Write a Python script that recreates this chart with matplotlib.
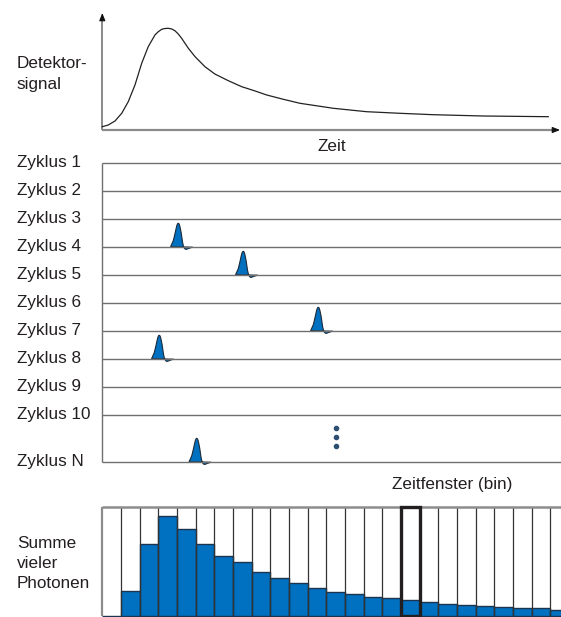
import numpy as np
import matplotlib
matplotlib.use("Agg")
import matplotlib.pyplot as plt

plt.rcParams["font.family"] = ["Liberation Sans", "DejaVu Sans"]

# ---------------------------------------------------------------- data
# detector signal (time in bin units, signal in arbitrary units)
signal_t = [0.00, 0.32, 0.68, 1.04, 1.39, 1.75, 2.11, 2.46, 2.82, 3.00,
            3.18, 3.36, 3.54, 3.72, 3.89, 4.07, 4.25, 4.61, 4.97, 5.50,
            6.03, 6.75, 7.47, 8.14, 8.81, 9.70, 10.59, 12.38, 14.16, 15.95,
            17.73, 20.41, 23.89]
signal_v = [3.3, 5.0, 9.0, 16.7, 28.3, 45.0, 66.7, 83.3, 95.0, 98.3,
            100.7, 101.5, 101.7, 101.0, 99.3, 96.0, 91.7, 81.7, 73.3, 63.3,
            56.0, 49.3, 43.3, 39.3, 35.0, 30.7, 26.7, 21.7, 18.3, 16.7,
            15.3, 14.0, 13.3]

# measurement cycles and single-photon arrivals
cycle_labels = ["Zyklus 1", "Zyklus 2", "Zyklus 3", "Zyklus 4", "Zyklus 5",
                "Zyklus 6", "Zyklus 7", "Zyklus 8", "Zyklus 9", "Zyklus 10",
                "Zyklus N"]
cycle_rows = [1, 2, 3, 4, 5, 6, 7, 8, 9, 10, 11.68]
photon_cycle = [4, 5, 7, 8, 11.68]
photon_time = [4.07, 7.55, 11.57, 3.05, 5.06]
ellipsis_time = 12.5
ellipsis_rows = [10.49, 10.81, 11.13]

# histogram: photon counts per time bin
bin_counts = [1, 76, 215, 299, 261, 215, 181, 163, 131, 113, 99, 85, 71,
              65, 57, 53, 47, 41, 35, 33, 30, 26, 23, 23, 17]
marked_bin = 16

# ---------------------------------------------------------------- style
W, H = 561, 617
BLUE = "#0070c0"
TXT = "#231f20"
FS = 12.3
BIN_PX = 18.667     # pixels per time bin
ROW_PX = 28.0       # pixels per cycle row

fig = plt.figure(figsize=(W / 100, H / 100), dpi=100)


def px_axes(left, top, right, bottom):
    ax = fig.add_axes([left / W, 1 - bottom / H, (right - left) / W,
                       (bottom - top) / H])
    ax.set_axis_off()
    return ax


def ftext(x, y, s, **kw):
    fig.text(x / W, 1 - y / H, s, fontsize=FS, color=TXT, **kw)


n_bins = len(bin_counts)

# ---------------------------------------------------------------- signal
ax_s = px_axes(102.3, 10, 102.3 + n_bins * BIN_PX, 130)
ax_s.set_xlim(0, n_bins)
ax_s.set_ylim(0, 120)
t_end = (560 - 102.3) / BIN_PX
ax_s.plot([0, t_end - 0.15], [0, 0], color="#8a8a8a", lw=1.6,
          solid_capstyle="butt", clip_on=False)
ax_s.plot([0, 0], [0, 114], color="#8a8a8a", lw=1.4,
          solid_capstyle="butt", clip_on=False)
head = dict(arrowstyle="-|>,head_length=0.45,head_width=0.18",
            color="#111111", lw=0.8, shrinkA=0, shrinkB=0)
ax_s.annotate("", xy=(t_end, 0), xytext=(t_end - 0.4, 0),
              arrowprops=head, annotation_clip=False)
ax_s.annotate("", xy=(0, 117), xytext=(0, 110),
              arrowprops=head, annotation_clip=False)
ax_s.plot(signal_t, signal_v, color="#222222", lw=0.9, clip_on=False,
          solid_joinstyle="round")

ftext(331.7, 150.7, "Zeit", ha="center", va="baseline")
ftext(16.7, 68.3, "Detektor-", ha="left", va="baseline")
ftext(16.7, 89.3, "signal", ha="left", va="baseline")

# ---------------------------------------------------------------- cycles
top_px, bot_px = 148, 470
ax_c = px_axes(102.3, top_px, 102.3 + n_bins * BIN_PX, bot_px)
ax_c.set_xlim(0, n_bins)
ax_c.set_ylim(1 + (bot_px - 162.7) / ROW_PX, 1 - (162.7 - top_px) / ROW_PX)
ax_c.hlines(cycle_rows, 0, n_bins, color="#707070", lw=1.0, clip_on=False)
ax_c.vlines(-0.03, cycle_rows[0], cycle_rows[-1], color="#707070", lw=1.0,
            clip_on=False)

# single-photon pulse glyph (offsets in pixels: along time, above baseline)
glyph_dx = np.array([-7.7, -6.4, -5.0, -4.0, -3.0, -2.2, -1.5, -0.8, 0.0,
                     0.8, 1.5, 2.2, 3.0, 3.7, 4.3, 5.3, 6.3, 7.3, 8.4,
                     10.5, 13.0, 14.3])
glyph_dy = np.array([0.0, 2.8, 6.0, 10.0, 14.3, 18.0, 21.0, 22.8, 23.5,
                     22.8, 20.8, 17.5, 13.3, 8.5, 4.3, 0.0, -1.8, -2.6,
                     -2.6, -1.7, -0.9, -0.5])
for t0, row in zip(photon_time, photon_cycle):
    ax_c.fill(t0 + glyph_dx / BIN_PX, row - glyph_dy / ROW_PX,
              facecolor=BLUE, edgecolor="#1c2b3a", lw=0.8, clip_on=False)

ax_c.scatter([ellipsis_time] * len(ellipsis_rows), ellipsis_rows, s=9,
             color="#2d4f73", zorder=3, clip_on=False)

for lab, row in zip(cycle_labels, cycle_rows):
    ax_c.annotate(lab, xy=(16.7 / W, row), xycoords=("figure fraction", "data"),
                  xytext=(0, -3.4), textcoords="offset points",
                  ha="left", va="baseline", fontsize=FS, color=TXT,
                  annotation_clip=False)

# ---------------------------------------------------------------- histogram
ymax = 326
ax_h = px_axes(102.3, 507.3, 102.3 + n_bins * BIN_PX, 616)
ax_h.set_xlim(0, n_bins)
ax_h.set_ylim(0, ymax)
ax_h.bar(np.arange(n_bins), bin_counts, width=1.0, align="edge",
         color=BLUE, edgecolor="#1b3550", lw=1.0, clip_on=False)
ax_h.vlines(np.arange(1, n_bins), 0, ymax, color="#333333", lw=0.9)
ax_h.vlines(0, 0, ymax, color="#8c8c8c", lw=1.6, clip_on=False)
ax_h.hlines(ymax, 0, n_bins, color="#8c8c8c", lw=1.8, clip_on=False)
ax_h.bar([marked_bin], [ymax], width=1.0, align="edge", fill=False,
         edgecolor="#231f20", lw=2.4, clip_on=False, zorder=4)

ftext(452.5, 489.3, "Zeitfenster (bin)", ha="center", va="baseline")
ftext(16.7, 547.7, "Summe", ha="left", va="baseline")
ftext(16.7, 568.3, "vieler", ha="left", va="baseline")
ftext(16.7, 588.3, "Photonen", ha="left", va="baseline")

fig.savefig("out.png", dpi=100, facecolor="white")
